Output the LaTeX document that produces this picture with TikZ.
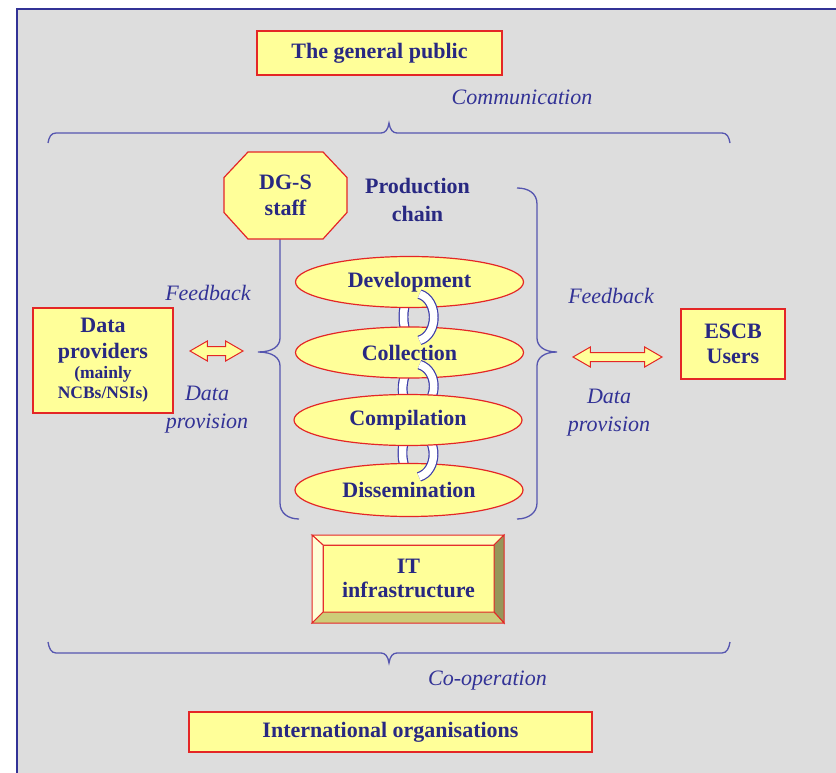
\documentclass[tikz,border=0pt]{standalone}
\usepackage{fontspec}
\setmainfont{Liberation Serif}
\usetikzlibrary{shapes.geometric,shapes.arrows}
\definecolor{bggray}{RGB}{221,221,221}
\definecolor{frameblue}{RGB}{50,50,150}
\definecolor{boxyellow}{RGB}{255,255,153}
\definecolor{boxred}{RGB}{228,38,38}
\definecolor{textblue}{RGB}{40,40,130}
\definecolor{labelblue}{RGB}{50,50,150}
\definecolor{braceblue}{RGB}{85,85,175}
\definecolor{linkblue}{RGB}{60,60,170}
\definecolor{bevtop}{RGB}{255,255,190}
\definecolor{bevleft}{RGB}{255,255,215}
\definecolor{bevright}{RGB}{150,150,90}
\definecolor{bevbottom}{RGB}{205,205,120}
\tikzstyle{yellowbox} = [rectangle, draw=boxred, fill=boxyellow, line width=1.4pt, inner sep=0pt, outer sep=0pt, text=textblue, font=\fontsize{22}{26}\selectfont\bfseries, align=center]
\tikzstyle{stage} = [ellipse, draw=boxred, fill=boxyellow, line width=1.2pt, inner sep=0pt, minimum width=228pt, minimum height=51pt, text=textblue, font=\fontsize{22}{26}\selectfont\bfseries]
\tikzstyle{octagon} = [draw=boxred, fill=boxyellow, line width=1.2pt]
\tikzstyle{boldtext} = [text=textblue, font=\fontsize{22}{26}\selectfont\bfseries, align=center]
\tikzstyle{flowtext} = [text=labelblue, font=\fontsize{22}{28}\selectfont\itshape, align=center]
\tikzstyle{dblarrow} = [double arrow, draw=boxred, fill=boxyellow, line width=1pt, inner sep=4pt, double arrow head extend=5.5pt, double arrow tip angle=60]
\tikzstyle{curly} = [draw=braceblue, line width=1.3pt]
\tikzstyle{chainlink} = [draw=linkblue, line width=1.2pt, double=white, double distance=7.5pt]

\begin{document}
\begin{tikzpicture}[x=1pt, y=-1pt]

            \useasboundingbox (0,0) rectangle (836,773);
            \fill [bggray] (17,9) rectangle (836,773);
            \draw [frameblue, line width=1.5pt] (17,773) -- (17,9) -- (836,9);

            %% outer world

            \node (public) [yellowbox, minimum width=245pt, minimum height=44pt] at (379.5,53) {The general public};
            \node (comm) [flowtext, anchor=base] at (522,105) {Communication};

            \draw [curly] (48,143) .. controls (49,137) and (51,133) .. (56,133) -- (381,133)
                .. controls (385,133) and (388,130) .. (389,123) .. controls (390,130) and (393,133) .. (397,133)
                -- (722,133) .. controls (727,133) and (729,137) .. (730,143);

            \draw [curly] (48,642) .. controls (49,648) and (51,653) .. (56,653) -- (381,653)
                .. controls (385,653) and (388,656) .. (389,663) .. controls (390,656) and (393,653) .. (397,653)
                -- (722,653) .. controls (727,653) and (729,648) .. (730,642);

            \node (coop) [flowtext, anchor=base] at (487.5,685) {Co-operation};
            \node (intl) [yellowbox, minimum width=403pt, minimum height=40pt] at (390.5,732) {International organisations};

            %% production chain

            \draw [curly] (517,188) .. controls (528,188) and (537,193) .. (537,204) -- (537,338)
                .. controls (537,346) and (544,352) .. (557,352) .. controls (544,352) and (537,358) .. (537,366)
                -- (537,503) .. controls (537,513) and (528,519) .. (517,519);
            \draw [curly] (299,188) .. controls (288,188) and (280,193) .. (280,204) -- (280,338)
                .. controls (280,346) and (273,352) .. (258,352) .. controls (273,352) and (280,358) .. (280,366)
                -- (280,503) .. controls (280,513) and (288,519) .. (299,519);

            \coordinate (dgspos) at (285.5,195.5);
            \draw [octagon] ([shift={(-37.5,-43.5)}]dgspos) -- ([shift={(37.5,-43.5)}]dgspos)
                -- ([shift={(61.5,-18)}]dgspos) -- ([shift={(61.5,17)}]dgspos)
                -- ([shift={(37.5,43.5)}]dgspos) -- ([shift={(-37.5,43.5)}]dgspos)
                -- ([shift={(-61.5,17)}]dgspos) -- ([shift={(-61.5,-18)}]dgspos) -- cycle;
            \node (dgs) [boldtext] at (dgspos) {DG-S\\staff};
            \node (chain) [boldtext] at (417.5,200) {Production\\[2pt]chain};

            \coordinate (devpos) at (409.5,282);
            \coordinate (collpos) at (409.5,352.5);
            \coordinate (comppos) at (408,420);
            \coordinate (disspos) at (409,490);

            % back halves of the links
            \draw [chainlink] ([shift={(-3,-6)}]devpos |- 0,307) .. controls +(-4,7) and +(-4,-7) .. ([shift={(-3,6)}]collpos |- 0,327);
            \draw [chainlink] ([shift={(-3,-6)}]collpos |- 0,378) .. controls +(-4,7) and +(-4,-7) .. ([shift={(-3,6)}]comppos |- 0,394);
            \draw [chainlink] ([shift={(-3,-6)}]comppos |- 0,446) .. controls +(-4,7) and +(-4,-7) .. ([shift={(-3,6)}]disspos |- 0,464);

            \node (dev) [stage] at (devpos) {Development};
            \node (coll) [stage] at (collpos) {Collection};
            \node (diss) [stage, minimum height=53pt] at (disspos) {Dissemination};

            % front halves of the links
            \draw [chainlink] ([shift={(10,-14)}]dev.south) .. controls +(19,6) and +(19,-6) .. ([shift={(10,14)}]coll.north);
            \draw [chainlink] ([shift={(10,-14)}]coll.south) .. controls +(19,6) and +(19,-6) .. ([shift={(10,14)}]coll.south |- 0,394);
            \draw [chainlink] ([shift={(10,-14)}]coll.south |- 0,446) .. controls +(19,6) and +(19,-6) .. ([shift={(10,14)}]diss.north);

            \node (comp) [stage] at (comppos) {Compilation};

            %% IT

            \node (it) [yellowbox, line width=1pt, minimum width=171pt, minimum height=67pt] at (408.5,578.5) {IT\\[-2pt]infrastructure};
            \coordinate (itnw) at ([shift={(-11,-10)}]it.north west);
            \coordinate (itne) at ([shift={(10,-10)}]it.north east);
            \coordinate (itse) at ([shift={(10,11)}]it.south east);
            \coordinate (itsw) at ([shift={(-11,11)}]it.south west);
            \draw [boxred, fill=bevtop, line width=1pt] (itnw) -- (itne) -- (it.north east) -- (it.north west) -- cycle;
            \draw [boxred, fill=bevright, line width=1pt] (itne) -- (itse) -- (it.south east) -- (it.north east) -- cycle;
            \draw [boxred, fill=bevbottom, line width=1pt] (itse) -- (itsw) -- (it.south west) -- (it.south east) -- cycle;
            \draw [boxred, fill=bevleft, line width=1pt] (itsw) -- (itnw) -- (it.north west) -- (it.south west) -- cycle;

            %% providers and users

            \node (prov) [yellowbox, minimum width=140pt, minimum height=105pt] at (103,360.5) {Data\\providers\\[-6pt]{\fontsize{17.5}{20}\selectfont (mainly}\\[-6pt]{\fontsize{17.5}{20}\selectfont NCBs/NSIs)}};
            \node (larrow) [dblarrow, minimum height=53pt] at (216.5,351) {};
            \node (lfeed) [flowtext, anchor=base] at (208,300) {Feedback};
            \node (lprov) [flowtext] at (207,410) {Data\\provision};

            \node (users) [yellowbox, minimum width=104pt, minimum height=70pt] at (733,344) {ESCB\\[-1pt]Users};
            \node (rarrow) [dblarrow, minimum height=89pt] at (617.5,357) {};
            \node (rfeed) [flowtext, anchor=base] at (611,303) {Feedback};
            \node (rprov) [flowtext] at (609,413) {Data\\provision};

\end{tikzpicture}
\end{document}
